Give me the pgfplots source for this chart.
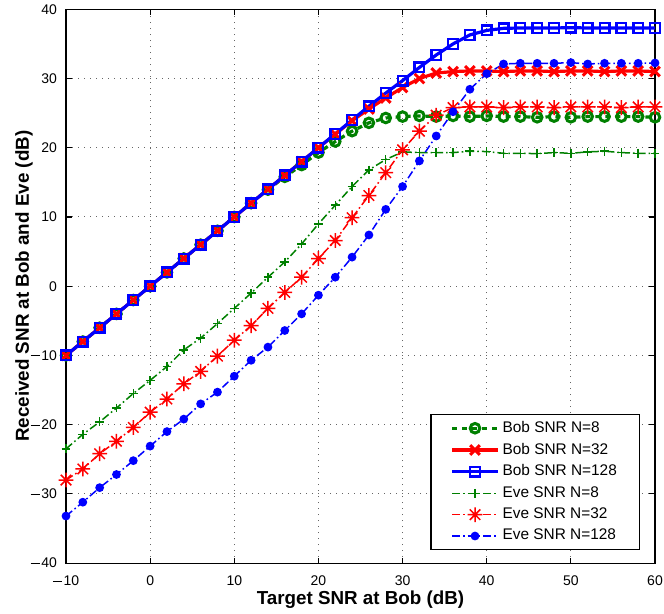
\documentclass[border=0pt]{standalone}
\usepackage{fontspec}
\setmainfont{Liberation Sans}
\usepackage{pgfplots}
\pgfplotsset{compat=1.18}
\definecolor{mgreen}{rgb}{0,0.5,0}
\newcommand\mn{\rule[0.27em]{0.66em}{0.075em}\kern0.1em}
\pgfdeclareplotmark{star8}{%
  \pgfpathmoveto{\pgfqpoint{-\pgfplotmarksize}{0pt}}\pgfpathlineto{\pgfqpoint{\pgfplotmarksize}{0pt}}%
  \pgfpathmoveto{\pgfqpoint{0pt}{-\pgfplotmarksize}}\pgfpathlineto{\pgfqpoint{0pt}{\pgfplotmarksize}}%
  \pgfpathmoveto{\pgfqpoint{-0.7071\pgfplotmarksize}{-0.7071\pgfplotmarksize}}\pgfpathlineto{\pgfqpoint{0.7071\pgfplotmarksize}{0.7071\pgfplotmarksize}}%
  \pgfpathmoveto{\pgfqpoint{-0.7071\pgfplotmarksize}{0.7071\pgfplotmarksize}}\pgfpathlineto{\pgfqpoint{0.7071\pgfplotmarksize}{-0.7071\pgfplotmarksize}}%
  \pgfusepathqstroke}
\tikzset{dashdotm/.style={dash pattern=on 4pt off 1.5pt on 0.8pt off 1.5pt}}
\begin{document}
\begin{tikzpicture}
\begin{axis}[
  scale only axis,
  width=294.5pt, height=276.9pt,
  xmin=-10, xmax=60, ymin=-40, ymax=40,
  xtick={-10,0,10,20,30,40,50,60},
  xticklabels={\mn10,0,10,20,30,40,50,60},
  ytick={-40,-30,-20,-10,0,10,20,30,40},
  yticklabels={\mn40,\mn30,\mn20,\mn10,0,10,20,30,40},
  tick align=inside,
  major tick length=2.8pt,
  tick style={line width=0.6pt, black},
  axis line style={line width=0.6pt},
  grid=major,
  grid style={line width=0.5pt, black!60, dash pattern=on 0.5pt off 2.5pt},
  ticklabel style={font=\fontsize{7}{8}\selectfont},
  xticklabel style={yshift=-3pt},
  yticklabel style={xshift=-1pt},
  every axis x label/.style={at={(rel axis cs:0.5,0)}, yshift=-18.5pt, anchor=center},
  every axis y label/.style={at={(rel axis cs:0,0.5)}, xshift=-21pt, rotate=90, anchor=center},
  label style={font=\fontsize{9.4}{11}\selectfont\bfseries},
  xlabel={Target SNR at Bob (dB)},
  ylabel={Received SNR at Bob and Eve (dB)},
  clip=false,
  legend cell align=left,
  legend style={at={(rel axis cs:1,0)}, anchor=south east, xshift=-7.5pt, yshift=6.5pt,
    draw=black, line width=0.6pt, fill=white,
    font=\fontsize{7.7}{9.2}\selectfont,
    inner xsep=9.75pt, inner ysep=1.8pt, row sep=0.8pt,
    nodes={inner sep=1.5pt}},
  legend image code/.code={\draw[mark repeat=2,mark phase=2] plot coordinates {(0pt,0pt) (11.5pt,0pt) (23pt,0pt)};},
]
\addplot[mgreen, line width=1.6pt, dash pattern=on 2.5pt off 2.5pt, mark=o, mark size=2.4pt, mark options={solid, line width=1.5pt}] coordinates {
(-10,-10) (-8,-8) (-6,-6) (-4,-4) (-2,-2) (0,0) (2,2) (4,4) (6,6) (8,8) (10,10) (12,12) (14,13.95) (16,15.8) (18,17.5) (20,19.3) (22,20.9) (24,22.4) (26,23.6) (28,24.3) (30,24.5) (32,24.6) (34,24.5) (36,24.6) (38,24.5) (40,24.6) (42,24.5) (44,24.5) (46,24.4) (48,24.5) (50,24.4) (52,24.5) (54,24.5) (56,24.5) (58,24.5) (60,24.4)};
\addlegendentry{Bob SNR N=8}
\addplot[red, line width=1.6pt, mark=x, mark size=3.4pt, mark options={solid, line width=1.5pt}] coordinates {
(-10,-10) (-8,-8) (-6,-6) (-4,-4) (-2,-2) (0,0) (2,2) (4,4) (6,6) (8,8) (10,10) (12,12) (14,14) (16,16) (18,18) (20,20) (22,21.95) (24,23.9) (26,25.6) (28,27.2) (30,28.7) (32,30.0) (34,30.8) (36,31.0) (38,31.1) (40,31.1) (42,31.0) (44,31.1) (46,31.1) (48,31.0) (50,31.1) (52,31.1) (54,31.0) (56,31.1) (58,31.1) (60,31.0)};
\addlegendentry{Bob SNR N=32}
\addplot[blue, line width=1.6pt, mark=square, mark size=2.4pt, mark options={solid, line width=1.2pt}] coordinates {
(-10,-10) (-8,-8) (-6,-6) (-4,-4) (-2,-2) (0,0) (2,2) (4,4) (6,6) (8,8) (10,10) (12,12) (14,14) (16,16) (18,18) (20,20) (22,22) (24,24) (26,26) (28,27.9) (30,29.7) (32,31.6) (34,33.4) (36,35.0) (38,36.3) (40,36.95) (42,37.25) (44,37.3) (46,37.3) (48,37.3) (50,37.35) (52,37.3) (54,37.3) (56,37.3) (58,37.3) (60,37.3)};
\addlegendentry{Bob SNR N=128}
\addplot[mgreen, line width=0.75pt, dashdotm, mark=+, mark size=2.2pt, mark options={solid, line width=0.75pt}] coordinates {
(-10,-23.5) (-8,-21.4) (-6,-19.6) (-4,-17.6) (-2,-15.5) (0,-13.6) (2,-11.6) (4,-9.2) (6,-7.5) (8,-5.4) (10,-3.2) (12,-1.0) (14,1.3) (16,3.5) (18,6.1) (20,9.0) (22,11.7) (24,14.4) (26,16.8) (28,18.3) (30,19.4) (32,19.3) (34,19.3) (36,19.3) (38,19.5) (40,19.45) (42,19.2) (44,19.2) (46,19.15) (48,19.3) (50,19.2) (52,19.4) (54,19.5) (56,19.3) (58,19.2) (60,19.2)};
\addlegendentry{Eve SNR N=8}
\addplot[red, line width=0.75pt, dashdotm, mark=star8, mark size=3.7pt, mark options={solid, line width=0.75pt}] coordinates {
(-10,-28.0) (-8,-26.4) (-6,-24.2) (-4,-22.4) (-2,-20.4) (0,-18.2) (2,-16.3) (4,-14.1) (6,-12.3) (8,-10.1) (10,-7.8) (12,-5.7) (14,-3.2) (16,-0.9) (18,1.3) (20,4.0) (22,6.6) (24,9.9) (26,13.1) (28,16.4) (30,19.7) (32,22.4) (34,24.7) (36,25.8) (38,25.9) (40,25.9) (42,25.8) (44,25.9) (46,25.9) (48,25.8) (50,25.9) (52,25.9) (54,25.9) (56,25.8) (58,25.9) (60,25.9)};
\addlegendentry{Eve SNR N=32}
\addplot[blue, line width=0.75pt, dashdotm, mark=*, mark size=1.8pt, mark options={solid, fill=blue}] coordinates {
(-10,-33.2) (-8,-31.2) (-6,-29.1) (-4,-27.2) (-2,-25.2) (0,-23.1) (2,-21.0) (4,-19.2) (6,-17.0) (8,-15.3) (10,-13.0) (12,-10.7) (14,-8.8) (16,-6.4) (18,-4.0) (20,-1.3) (22,1.3) (24,4.2) (26,7.4) (28,11.1) (30,14.4) (32,18.1) (34,21.7) (36,25.2) (38,28.45) (40,30.7) (42,32.1) (44,32.2) (46,32.2) (48,32.2) (50,32.3) (52,32.1) (54,32.2) (56,32.2) (58,32.2) (60,32.25)};
\addlegendentry{Eve SNR N=128}
\coordinate (sw) at (rel axis cs:0,0);
\coordinate (ne) at (rel axis cs:1,1);
\end{axis}
\pgfresetboundingbox
\path ([shift={(-33pt,-25pt)}]sw) rectangle ([shift={(4.5pt,4.65pt)}]ne);
\end{tikzpicture}
\end{document}
